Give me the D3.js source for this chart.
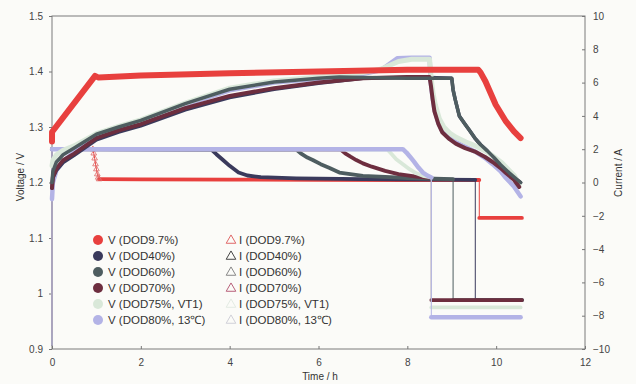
<!DOCTYPE html>
<html>
<head>
<meta charset="utf-8">
<script src="https://cdn.jsdelivr.net/npm/d3@7"></script>
<style>
  body { margin: 0; background: #fbfbf8; }
  svg { font-family: "Liberation Sans", Arial, sans-serif; }
</style>
</head>
<body>
<svg width="636" height="384"></svg>
<script>
// ---- data ----
var xTicks = [0, 2, 4, 6, 8, 10, 12]
var vTicks = [0.9, 1.0, 1.1, 1.2, 1.3, 1.4, 1.5]
var iTicks = [-10, -8, -6, -4, -2, 0, 2, 4, 6, 8, 10]

var seriesNames = ['DOD9.7%', 'DOD40%', 'DOD60%', 'DOD70%', 'DOD75%, VT1', 'DOD80%, 13\u2103']

// voltage (left axis)
var tV97 = [0, 0.001, 0.97, 1.05, 2, 4, 6, 8, 9.6, 9.65, 9.76, 9.99, 10.22, 10.4, 10.55]
var v97  = [1.274, 1.291, 1.392, 1.389, 1.393, 1.397, 1.4, 1.403, 1.403, 1.398, 1.382, 1.34, 1.31, 1.292, 1.28]

var tV40 = [0, 0.02, 0.1, 0.25, 0.5, 1, 1.5, 2, 3, 4, 5, 6, 7, 8, 8.5, 9.0, 9.03, 9.08, 9.17, 9.3, 9.39, 9.52, 9.65, 9.8, 9.95, 10.1, 10.3, 10.55]
var v40  = [1.19, 1.208, 1.222, 1.236, 1.249, 1.277, 1.291, 1.302, 1.331, 1.353, 1.368, 1.379, 1.388, 1.389, 1.389, 1.388, 1.367, 1.349, 1.32, 1.305, 1.295, 1.28, 1.268, 1.257, 1.245, 1.232, 1.217, 1.2]

var tV60 = [0, 0.02, 0.1, 0.25, 0.5, 1, 1.5, 2, 3, 4, 5, 6, 6.47, 7, 8, 9.0, 9.03, 9.08, 9.17, 9.3, 9.39, 9.52, 9.65, 9.8, 9.95, 10.1, 10.3, 10.55]
var v60  = [1.2, 1.22, 1.237, 1.25, 1.262, 1.287, 1.3, 1.312, 1.342, 1.368, 1.381, 1.388, 1.39, 1.389, 1.388, 1.388, 1.367, 1.349, 1.32, 1.305, 1.295, 1.28, 1.268, 1.257, 1.245, 1.232, 1.217, 1.2]

var tV70 = [0, 0.02, 0.1, 0.25, 0.5, 1, 1.5, 2, 3, 4, 5, 6, 7, 8, 8.5, 8.53, 8.57, 8.61, 8.7, 8.79, 8.95, 9.09, 9.3, 9.54, 9.75, 9.92, 10.1, 10.22, 10.4, 10.52]
var v70  = [1.19, 1.21, 1.225, 1.24, 1.252, 1.28, 1.294, 1.305, 1.334, 1.356, 1.37, 1.38, 1.388, 1.39, 1.39, 1.375, 1.35, 1.328, 1.305, 1.29, 1.278, 1.27, 1.262, 1.255, 1.246, 1.237, 1.226, 1.217, 1.205, 1.192]

var tV75 = [0, 0.02, 0.1, 0.25, 0.5, 1, 1.5, 2, 3, 4, 5, 6, 7, 7.4, 7.8, 8.1, 8.5, 8.54, 8.58, 8.63, 8.72, 8.82, 8.97, 9.11, 9.32, 9.56, 9.77, 9.94, 10.12, 10.24, 10.41, 10.52]
var v75  = [1.23, 1.24, 1.25, 1.258, 1.266, 1.288, 1.301, 1.313, 1.343, 1.37, 1.383, 1.39, 1.398, 1.404, 1.418, 1.422, 1.422, 1.385, 1.36, 1.34, 1.315, 1.3, 1.288, 1.281, 1.273, 1.265, 1.256, 1.247, 1.236, 1.226, 1.212, 1.197]

var tV80 = [0, 0.02, 0.1, 0.25, 0.5, 1, 1.5, 2, 3, 4, 5, 6, 7, 7.4, 7.78, 8.1, 8.5, 8.53, 8.57, 8.61, 8.7, 8.79, 8.95, 9.09, 9.3, 9.54, 9.75, 9.92, 10.1, 10.22, 10.4, 10.55]
var v80  = [1.17, 1.2, 1.222, 1.238, 1.255, 1.285, 1.298, 1.31, 1.34, 1.366, 1.38, 1.387, 1.396, 1.402, 1.424, 1.425, 1.425, 1.378, 1.352, 1.332, 1.307, 1.292, 1.28, 1.273, 1.265, 1.255, 1.244, 1.233, 1.22, 1.208, 1.193, 1.175]

// current (right axis)
var tI97 = [0, 0, 0, 0.92, 0.94, 0.96, 0.98, 1.0, 1.02, 1.04, 1.06, 2, 4, 6, 8, 9.62, 9.62, 10.58]
var i97  = [-9.04, -2.35, 2.0, 2.0, 1.75, 1.45, 1.1, 0.8, 0.5, 0.3, 0.2, 0.19, 0.17, 0.16, 0.15, 0.15, -2.13, -2.13]

var tI40 = [0, 0, 3.59, 3.7, 3.85, 4.0, 4.2, 4.4, 4.7, 5.5, 7, 9.53, 9.53, 10.58]
var i40  = [-9.8, 2.0, 1.98, 1.7, 1.35, 1.0, 0.6, 0.42, 0.32, 0.25, 0.2, 0.16, -7.06, -7.06]

var tI60 = [0, 0, 5.5, 5.6, 5.75, 5.87, 6.05, 6.25, 6.47, 7, 8, 9.03, 9.03, 10.58]
var i60  = [-9.8, 2.0, 1.98, 1.75, 1.5, 1.35, 1.1, 0.87, 0.6, 0.4, 0.27, 0.2, -7.06, -7.06]

var tI70 = [0, 0, 6.5, 6.6, 6.72, 6.85, 7.0, 7.2, 7.5, 7.8, 8.2, 8.54, 8.54, 10.58]
var i70  = [-9.8, 2.0, 1.98, 1.75, 1.55, 1.35, 1.15, 0.95, 0.7, 0.5, 0.35, 0.28, -7.06, -7.06]

var tI75 = [0, 0, 7.55, 7.65, 7.75, 7.9, 8.05, 8.2, 8.35, 8.54, 8.54, 10.55]
var i75  = [-9.8, 2.0, 1.98, 1.7, 1.4, 1.1, 0.8, 0.55, 0.4, 0.3, -7.5, -7.5]

var tI80 = [0, 0, 7.9, 7.98, 8.06, 8.15, 8.25, 8.35, 8.45, 8.54, 8.54, 10.55]
var i80  = [-9.8, 2.0, 2.0, 1.8, 1.55, 1.25, 0.9, 0.6, 0.42, 0.3, -8.1, -8.1]

// ---- styles ----
var colors = ['#e8403e', '#3a3a5c', '#4e5d60', '#6d2e3f', '#d9e8d9', '#b3b3e6']
var triColors = ['#e06868', '#444', '#888', '#b8607a', '#e3ebe3', '#d0d0d8']
var vWidth = [6, 3.5, 3.5, 4, 5, 4.5]
var vOrder = [5, 1, 4, 3, 2, 0]   // back to front

var voltData = [[tV97, v97], [tV40, v40], [tV60, v60], [tV70, v70], [tV75, v75], [tV80, v80]]
var currData = [[tI97, i97], [tI40, i40], [tI60, i60], [tI70, i70], [tI75, i75], [tI80, i80]]

var svg = d3.select('svg')

var x = d3.scaleLinear().domain([0, 12]).range([52, 585])
var yV = d3.scaleLinear().domain([0.9, 1.5]).range([349, 16])
var yI = d3.scaleLinear().domain([-10, 10]).range([349, 16])

function zip(a, b) { return a.map(function (t, k) { return [t, b[k]] }) }

var lineI = d3.line().x(function (d) { return x(d[0]) }).y(function (d) { return yI(d[1]) })
var lineV = d3.line().x(function (d) { return x(d[0]) }).y(function (d) { return yV(d[1]) })

// frame
svg.append('rect').attr('x', 52).attr('y', 16).attr('width', 533).attr('height', 333)
   .attr('fill', 'none').attr('stroke', '#7a7a7a').attr('stroke-width', 1)

// axes
svg.append('g').attr('transform', 'translate(52,0)')
   .call(d3.axisLeft(yV).tickValues(vTicks).tickSize(3).tickPadding(6)
   .tickFormat(function (d) { return Math.abs(d - 1) < 1e-9 ? '1' : d3.format('.1f')(d) }))
svg.append('g').attr('transform', 'translate(585,0)')
   .call(d3.axisRight(yI).tickValues(iTicks).tickSize(-3).tickPadding(8).tickFormat(d3.format('d')))
svg.append('g').attr('transform', 'translate(0,349)')
   .call(d3.axisBottom(x).tickValues(xTicks).tickSize(-3).tickPadding(10).tickFormat(d3.format('d')))

svg.selectAll('.domain').remove()
svg.selectAll('.tick line').attr('stroke', '#777')
svg.selectAll('.tick text').attr('fill', '#444').style('font-size', '10px')

svg.append('text').attr('transform', 'translate(24,177) rotate(-90)').attr('text-anchor', 'middle')
   .style('font-size', '10px').attr('fill', '#333').text('Voltage / V')
svg.append('text').attr('transform', 'translate(622,173) rotate(-90)').attr('text-anchor', 'middle')
   .style('font-size', '10px').attr('fill', '#333').text('Current / A')
svg.append('text').attr('x', 320).attr('y', 380).attr('text-anchor', 'middle')
   .style('font-size', '10px').attr('fill', '#333').text('Time / h')

var plot = svg.append('g')

// current curves: thin line everywhere, thick where points are dense (marker band)
currData.forEach(function (s, k) {
  var pts = zip(s[0], s[1])
  plot.append('path').datum(pts).attr('d', lineI)
      .attr('fill', 'none').attr('stroke', colors[k]).attr('stroke-width', 1)
  var segs = [], cur = []
  for (var j = 0; j < pts.length - 1; j++) {
    if (pts[j + 1][0] - pts[j][0] >= 0.05) {
      if (cur.length === 0) cur.push(pts[j])
      cur.push(pts[j + 1])
    } else {
      if (cur.length) segs.push(cur)
      cur = []
    }
  }
  if (cur.length) segs.push(cur)
  plot.selectAll(null).data(segs).enter().append('path').attr('d', lineI)
      .attr('fill', 'none').attr('stroke', colors[k]).attr('stroke-width', k === 5 ? 4.5 : 3.8)
      .attr('stroke-linecap', 'round').attr('stroke-linejoin', 'round')
  if (k === 0) {
    var marks = pts.filter(function (d) { return d[0] > 0.9 && d[0] < 1.1 })
    plot.selectAll(null).data(marks).enter().append('path')
        .attr('d', d3.symbol(d3.symbolTriangle, 14))
        .attr('transform', function (d) { return 'translate(' + x(d[0]) + ',' + yI(d[1]) + ')' })
        .attr('fill', 'none').attr('stroke', '#e06868').attr('stroke-width', 0.8)
  }
})

// voltage curves
vOrder.forEach(function (k) {
  var s = voltData[k]
  plot.append('path').datum(zip(s[0], s[1])).attr('d', lineV)
      .attr('fill', 'none').attr('stroke', colors[k]).attr('stroke-width', vWidth[k])
      .attr('stroke-linecap', 'round').attr('stroke-linejoin', 'round')
})

// legend
var leg = svg.append('g')
seriesNames.forEach(function (n, k) {
  var yy = 240 + k * 16
  leg.append('circle').attr('cx', 98).attr('cy', yy).attr('r', 5).attr('fill', colors[k])
  leg.append('text').attr('x', 108).attr('y', yy + 4).style('font-size', '11.5px').attr('fill', '#333')
     .text('V (' + n + ')')
  leg.append('path').attr('d', d3.symbol(d3.symbolTriangle, 40))
     .attr('transform', 'translate(231,' + (yy + 0.5) + ')')
     .attr('fill', 'none').attr('stroke', triColors[k]).attr('stroke-width', 1)
  leg.append('text').attr('x', 239).attr('y', yy + 4).style('font-size', '11.5px').attr('fill', '#333')
     .text('I (' + n + ')')
})
</script>
</body>
</html>
